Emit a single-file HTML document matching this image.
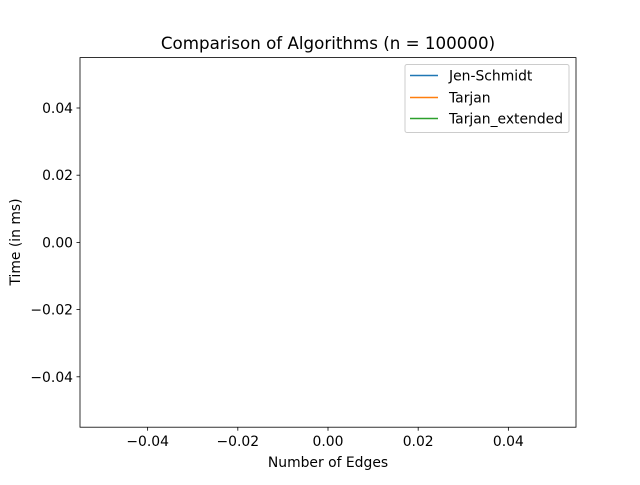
<!DOCTYPE html>
<html><head><meta charset="utf-8"><style>
body{margin:0;background:#fff}
text{font-family:"DejaVu Sans","Liberation Sans",sans-serif;fill:#000}
</style></head><body>
<svg id="chart" width="640" height="480" xmlns="http://www.w3.org/2000/svg">
<rect width="640" height="480" fill="#fff"/>
<text x="328" y="49" font-size="16.7" text-anchor="middle">Comparison of Algorithms (n = 100000)</text>
<g id="xticks"></g>
<g id="yticks"></g>
<g id="series"></g>
<rect x="80" y="57.6" width="496" height="369.6" fill="none" stroke="#000" stroke-width="0.8"/>
<text x="328" y="467" font-size="13.9" text-anchor="middle">Number of Edges</text>
<text transform="translate(20,242) rotate(-90)" font-size="13.9" text-anchor="middle">Time (in ms)</text>
<g>
<rect x="405" y="64.5" width="164" height="68" rx="2" fill="#fff" fill-opacity="0.8" stroke="#ccc" stroke-width="1"/>
<g><line x1="410" y1="75.5" x2="438" y2="75.5" stroke="#1f77b4" stroke-width="1.5"/><text x="449" y="80.5" font-size="13.9">Jen-Schmidt</text></g>
<g><line x1="410" y1="97.5" x2="438" y2="97.5" stroke="#ff7f0e" stroke-width="1.5"/><text x="449" y="102.5" font-size="13.9">Tarjan</text></g>
<g><line x1="410" y1="118.5" x2="438" y2="118.5" stroke="#2ca02c" stroke-width="1.5"/><text x="449" y="123.5" font-size="13.9">Tarjan_extended</text></g>
</g>
</svg>
<script>
const xTicks=[-0.04,-0.02,0.00,0.02,0.04];
const yTicks=[-0.04,-0.02,0.00,0.02,0.04];
const xTickLabels=["\u22120.04","\u22120.02","0.00","0.02","0.04"];
const yTickLabels=["\u22120.04","\u22120.02","0.00","0.02","0.04"];
const edges=[];
const jenSchmidt=[];
const tarjan=[];
const tarjanExtended=[];
const NS="http://www.w3.org/2000/svg";
const L=80,R=576,T=57.6,B=427.2,MIN=-0.055,MAX=0.055;
const sx=v=>L+(v-MIN)/(MAX-MIN)*(R-L);
const sy=v=>B-(v-MIN)/(MAX-MIN)*(B-T);
function mk(tag,attrs,parent){const e=document.createElementNS(NS,tag);for(const k in attrs)e.setAttribute(k,attrs[k]);parent.appendChild(e);return e;}
const gx=document.getElementById('xticks'),gy=document.getElementById('yticks');
xTicks.forEach((v,i)=>{const x=sx(v);
 const l=mk('line',{x1:x,y1:B,x2:x,y2:B+3.5,stroke:'#000','stroke-width':0.8},gx);
 
 
 const t=mk('text',{x:x,y:B+19,'font-size':13.9,'text-anchor':'middle'},gx);t.textContent=xTickLabels[i];
 
 });
yTicks.forEach((v,i)=>{const y=sy(v);
 const l=mk('line',{x1:L-3.5,y1:y,x2:L,y2:y,stroke:'#000','stroke-width':0.8},gy);
 
 
 const t=mk('text',{x:L-7,y:y+5,'font-size':13.9,'text-anchor':'end'},gy);t.textContent=yTickLabels[i];
 
 });
const gs=document.getElementById('series');
[[jenSchmidt,'#1f77b4','jen-schmidt-line'],[tarjan,'#ff7f0e','tarjan-line'],[tarjanExtended,'#2ca02c','tarjan-extended-line']].forEach(([d,c,n])=>{
 const p=mk('polyline',{points:d.map((v,i)=>sx(edges[i])+','+sy(v)).join(' '),fill:'none',stroke:c,'stroke-width':1.5},gs);
 
 });
</script>
</body></html>
